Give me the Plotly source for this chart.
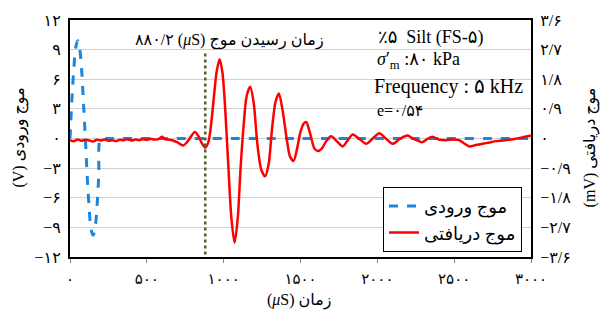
import plotly.graph_objects as go

# ---------------- data ----------------
input_t = [0, 12, 25, 37, 50, 62, 75, 87, 100, 112, 125, 137, 150, 162, 175, 187, 200, 230, 260, 3000]
input_v = [0, 3.8, 7.1, 9.2, 9.9, 9.2, 7.1, 3.8, 0, -3.8, -7.1, -9.2, -9.8, -9.2, -7.1, -3.8, 0, 0, 0, 0]

recv_t = [0, 25, 50, 75, 100, 125, 150, 175, 200, 225, 250, 275, 300, 325, 350, 375, 400,
          425, 450, 475, 500, 525, 550, 575, 600, 615, 640, 670, 700, 736, 760, 790, 812,
          835, 855, 880, 900, 915, 935, 955, 974, 992, 1010, 1030, 1050, 1071, 1092, 1110,
          1130, 1150, 1173, 1195, 1220, 1245, 1270, 1292, 1315, 1337, 1359, 1382, 1410,
          1432, 1455, 1478, 1500, 1520, 1537, 1560, 1590, 1612, 1640, 1665, 1699, 1740,
          1775, 1808, 1840, 1880, 1927, 1970, 2013, 2055, 2100, 2150, 2197, 2230, 2262,
          2294, 2330, 2359, 2400, 2446, 2490, 2532, 2565, 2597, 2640, 2684, 2730, 2771,
          2820, 2857, 2910, 2950, 2976, 3000]
recv_v = [-0.05, -0.08, -0.03, -0.07, -0.04, -0.06, -0.09, -0.04, -0.06, -0.03, -0.07, -0.05,
          -0.08, -0.04, -0.05, -0.02, -0.06, -0.03, -0.05, -0.02, -0.04, -0.01, -0.03, -0.02,
          0.05, -0.02, -0.03, -0.06, -0.12, -0.21, -0.12, 0.08, 0.2, 0.08, -0.12, -0.28,
          -0.12, 0.3, 1.2, 2.05, 2.41, 2.0, 0.9, -0.8, -2.4, -3.17, -2.4, -0.9, 0.4, 1.3,
          1.57, 1.1, -0.2, -0.95, -1.15, -0.8, 0.3, 1.1, 1.37, 0.9, 0.0, -0.55, -0.68, -0.3,
          0.2, 0.45, 0.5, 0.2, -0.3, -0.38, -0.3, -0.1, 0.07, -0.1, -0.24, -0.05, 0.12, 0.0,
          -0.16, 0.0, 0.16, 0.0, -0.16, 0.0, 0.09, 0.0, -0.06, -0.11, 0.0, 0.05, -0.03, -0.05,
          -0.03, -0.05, -0.15, -0.24, -0.2, -0.16, -0.12, -0.08, -0.06, -0.04, 0.0, 0.04,
          0.07, 0.08]

arrival_time = 880.2

x_ticks = [0, 500, 1000, 1500, 2000, 2500, 3000]
x_ticktext = ["۰", "۵۰۰", "۱۰۰۰", "۱۵۰۰", "۲۰۰۰", "۲۵۰۰", "۳۰۰۰"]
yl_ticks = [12, 9, 6, 3, 0, -3, -6, -9, -12]
yl_ticktext = ["۱۲", "۹", "۶", "۳", "۰", "−۳", "−۶", "−۹", "−۱۲"]
yr_ticks = [3.6, 2.7, 1.8, 0.9, 0, -0.9, -1.8, -2.7, -3.6]
yr_ticktext = ["۳/۶", "۲/۷", "۱/۸", "۰/۹", "۰", "−۰/۹", "−۱/۸", "−۲/۷", "−۳/۶"]

name_in = "موج ورودی"
name_out = "موج دریافتی"

# ---------------- figure ----------------
W, H = 603, 322
L, R, T, B = 70, 72, 17, 65
PW, PH = W - L - R, H - T - B


def px(xp):
    return (xp - L) / PW


def py(yp):
    return 1 - (yp - T) / PH


FONT = "Liberation Serif, Times New Roman, DejaVu Sans, serif"

fig = go.Figure()
fig.add_trace(go.Scatter(x=input_t, y=input_v, name=name_in, mode="lines",
                         line=dict(color="#1C86DE", width=3, dash="dash", shape="spline"),
                         yaxis="y"))
fig.add_trace(go.Scatter(x=recv_t, y=recv_v, name=name_out, mode="lines",
                         line=dict(color="#FF0000", width=2.5, shape="spline", smoothing=0.8),
                         yaxis="y2"))

shapes = [
    dict(type="rect", xref="paper", yref="paper", x0=px(112), x1=px(346), y0=py(55), y1=1,
         fillcolor="white", line=dict(width=0), layer="between"),
    dict(type="rect", xref="paper", yref="paper", x0=px(348), x1=1, y0=py(122), y1=1,
         fillcolor="white", line=dict(width=0), layer="between"),
    dict(type="rect", xref="paper", yref="paper", x0=px(369), x1=1, y0=0, y1=py(180),
         fillcolor="white", line=dict(width=0), layer="between"),
    dict(type="line", xref="x", yref="y", x0=arrival_time, x1=arrival_time, y0=8.6, y1=-12,
         line=dict(color="#4F6228", width=2.5, dash="dot"), layer="above"),
]


def ann(text, x, y, size, xanchor="center", angle=0):
    return dict(text=text, xref="paper", yref="paper", x=px(x), y=py(y), xanchor=xanchor,
                yanchor="middle", textangle=angle, showarrow=False,
                font=dict(size=size, family=FONT, color="black"))


annotations = [
    ann("۸۸۰/۲ (<i>μ</i>S) زمان رسیدن موج", 229, 38, 16),
    ann("٪۵  Silt (FS-۵)", 376, 35, 18, "left"),
    ann("<i>σ</i>′<sub>m</sub> :۸۰ kPa", 375, 58, 18, "left"),
    ann("Frequency : ۵ kHz", 372, 84, 20, "left"),
    ann("e=۰/۵۴", 375, 109, 16, "left"),
    ann("(<i>μ</i>S) زمان", 299, 301, 16),
    ann("(V) موج ورودی", 20, 136, 16, angle=-90),
    ann("(mV) موج دریافتی", 590, 146, 16, angle=-90),
]

fig.update_layout(
    width=W, height=H,
    margin=dict(l=L, r=R, t=T, b=B),
    paper_bgcolor="white", plot_bgcolor="white",
    font=dict(family=FONT, size=16, color="black"),
    showlegend=True,
    legend=dict(x=px(383), y=py(186), xanchor="left", yanchor="top",
                bgcolor="white", bordercolor="black", borderwidth=1,
                font=dict(size=18, family=FONT, color="black"),
                tracegroupgap=2, itemwidth=30),
    xaxis=dict(range=[0, 3000], tickvals=x_ticks, ticktext=x_ticktext,
               showgrid=False, zeroline=False, showline=True, linecolor="black",
               linewidth=2, mirror=True, ticks="outside", ticklen=4, tickcolor="#888",
               ticklabelstandoff=3, tickfont=dict(size=15)),
    yaxis=dict(range=[-12, 12], tickvals=yl_ticks, ticktext=yl_ticktext,
               showgrid=True, gridcolor="#D0D0D0", gridwidth=1, zeroline=False,
               showline=True, linecolor="black", linewidth=2, mirror=True, ticks="",
               ticklabelstandoff=4, tickfont=dict(size=16)),
    yaxis2=dict(range=[-3.6, 3.6], tickvals=yr_ticks, ticktext=yr_ticktext,
                overlaying="y", side="right", showgrid=False, zeroline=False,
                showline=True, linecolor="black", linewidth=2, ticks="",
                ticklabelstandoff=4, tickfont=dict(size=16)),
    shapes=shapes,
    annotations=annotations,
)

fig.write_html("out.html")
